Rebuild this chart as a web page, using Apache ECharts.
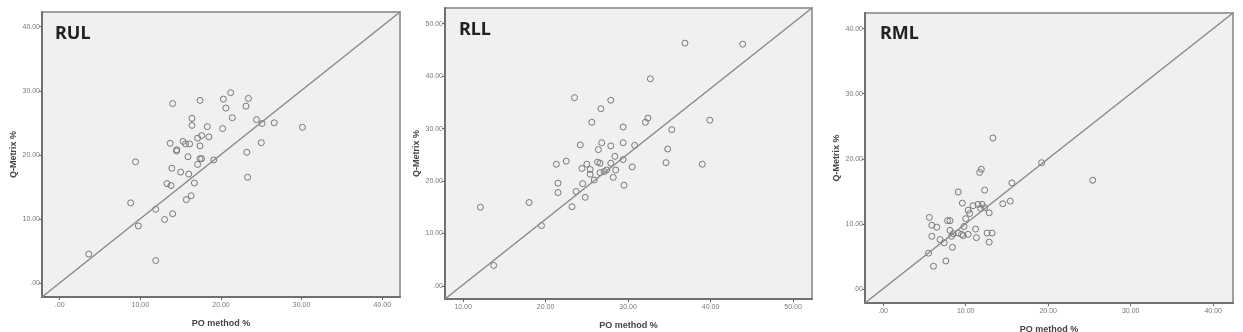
<!DOCTYPE html>
<html>
<head>
<meta charset="utf-8">
<script src="https://cdn.jsdelivr.net/npm/echarts@6/dist/echarts.min.js"></script>
<style>
  html, body { margin: 0; padding: 0; background: #fff; }
  #chart { width: 1243px; height: 332px; }
</style>
</head>
<body>
<div id="chart"></div>
<script>
// panel names and axis titles
var panelNames = ['RUL', 'RLL', 'RML'];
var xTitle = 'PO method %';
var yTitle = 'Q-Metrix %';

// RUL
var rulPO = [3.6, 11.9, 8.8, 9.75, 9.4, 11.9, 13.0, 14.0, 13.3, 13.8, 13.9, 13.7, 14.0, 14.5, 14.5, 15.0, 15.3, 15.6, 16.1, 15.9,
  16.0, 15.7, 16.3, 16.7, 16.4, 16.4, 17.1, 17.1, 17.4, 17.4, 17.6, 17.6, 17.4, 18.3, 18.5, 19.1, 20.2, 20.3, 20.6, 21.2,
  21.4, 23.1, 23.4, 23.2, 23.3, 24.4, 25.1, 25.0, 26.6, 30.1];
var rulQM = [4.5, 3.5, 12.5, 8.9, 18.9, 11.5, 9.9, 10.8, 15.5, 15.2, 17.9, 21.8, 28.0, 20.6, 20.8, 17.3, 22.1, 21.7, 21.7, 19.7,
  17.0, 13.0, 13.6, 15.6, 25.7, 24.6, 18.5, 22.6, 21.4, 19.4, 19.4, 23.0, 28.5, 24.4, 22.8, 19.2, 24.1, 28.7, 27.3, 29.7,
  25.8, 27.6, 28.8, 20.4, 16.5, 25.5, 24.9, 21.9, 25.0, 24.3];

// RLL
var rllPO = [12.1, 13.7, 18.0, 19.5, 21.3, 21.5, 21.5, 22.5, 23.2, 23.5, 23.7, 24.2, 24.4, 24.5, 24.8, 25.0, 25.4, 25.4, 25.6, 25.9,
  26.3, 26.4, 26.6, 26.6, 26.7, 26.8, 27.1, 27.4, 27.9, 27.9, 27.9, 28.2, 28.4, 28.5, 29.4, 29.4, 29.4, 29.5, 30.5, 30.8,
  32.1, 32.4, 32.7, 34.6, 34.8, 35.3, 36.9, 39.0, 39.9, 43.9];
var rllQM = [15.0, 3.9, 15.9, 11.5, 23.2, 19.6, 17.8, 23.8, 15.1, 35.9, 18.0, 26.9, 22.4, 19.5, 16.9, 23.2, 22.2, 21.3, 31.2, 20.2,
  23.6, 26.0, 23.4, 21.6, 33.8, 27.3, 21.8, 22.1, 35.4, 26.7, 23.4, 20.7, 24.7, 22.1, 30.3, 27.3, 24.1, 19.2, 22.7, 26.8,
  31.2, 32.0, 39.5, 23.5, 26.1, 29.8, 46.3, 23.2, 31.6, 46.1];

// RML
var rmlPO = [6.1, 7.6, 5.5, 8.4, 5.6, 5.9, 6.5, 5.9, 6.9, 7.4, 8.3, 7.8, 8.1, 8.1, 8.5, 9.1, 9.5, 9.7, 10.3, 9.1,
  9.6, 9.8, 10.0, 10.3, 10.5, 10.9, 11.5, 12.0, 11.8, 12.3, 11.2, 11.3, 12.6, 13.2, 12.85, 12.85, 11.7, 11.9, 12.3, 13.3,
  14.5, 15.4, 15.6, 19.2, 25.4];
var rmlQM = [3.5, 4.3, 5.5, 6.4, 11.0, 9.8, 9.5, 8.1, 7.6, 7.1, 8.1, 10.5, 10.5, 9.0, 8.5, 8.6, 8.4, 8.2, 8.4, 14.9,
  13.2, 9.6, 10.8, 12.1, 11.6, 12.8, 13.0, 13.0, 12.4, 12.5, 9.2, 7.9, 8.6, 8.6, 7.2, 11.7, 17.9, 18.4, 15.2, 23.2,
  13.1, 13.5, 16.3, 19.4, 16.7];

// tick labels
var rulXTicks = [0, 10, 20, 30, 40], rulYTicks = [0, 10, 20, 30, 40];
var rllXTicks = [10, 20, 30, 40, 50], rllYTicks = [0, 10, 20, 30, 40, 50];
var rmlXTicks = [0, 10, 20, 30, 40], rmlYTicks = [0, 10, 20, 30, 40];

// axis extents [min, max]
var rulXRange = [-2.2, 42.2], rulYRange = [-2.2, 42.3];
var rllXRange = [7.8, 52.3], rllYRange = [-2.5, 53];
var rmlXRange = [-2.2, 42.4], rmlYRange = [-2.15, 42.4];

function zip(a, b) {
  return a.map(function (v, i) { return [v, b[i]]; });
}
function fmt(v) {
  return v === 0 ? '.00' : v.toFixed(2);
}

var panels = [
  { name: panelNames[0], po: rulPO, qm: rulQM, xt: rulXTicks, yt: rulYTicks, xr: rulXRange, yr: rulYRange,
    grid: { left: 42, top: 12, width: 358, height: 285 }, title: { left: 55, top: 25 } },
  { name: panelNames[1], po: rllPO, qm: rllQM, xt: rllXTicks, yt: rllYTicks, xr: rllXRange, yr: rllYRange,
    grid: { left: 445, top: 8, width: 367, height: 291 }, title: { left: 459, top: 21 } },
  { name: panelNames[2], po: rmlPO, qm: rmlQM, xt: rmlXTicks, yt: rmlYTicks, xr: rmlXRange, yr: rmlYRange,
    grid: { left: 865, top: 13, width: 368, height: 290 }, title: { left: 880, top: 25 } }
];

var labelStyle = { fontSize: 7, color: '#777', fontFamily: 'Liberation Sans' };
var nameStyle = { fontSize: 9, fontWeight: 'bold', color: '#444', fontFamily: 'Liberation Sans' };

var option = { animation: false, grid: [], xAxis: [], yAxis: [], series: [], title: [] };

panels.forEach(function (p, i) {
  option.grid.push({
    left: p.grid.left, top: p.grid.top, width: p.grid.width, height: p.grid.height,
    outerBoundsMode: 'none', containLabel: false,
    show: true, backgroundColor: '#f0f0f0', borderColor: '#a0a0a0', borderWidth: 2
  });
  option.title.push({
    text: p.name, left: p.title.left, top: p.title.top, padding: 0,
    textStyle: { fontSize: 18, fontWeight: 'bold', color: '#222', fontFamily: 'Noto Sans' }
  });
  option.xAxis.push({
    gridIndex: i, type: 'value', min: p.xr[0], max: p.xr[1],
    name: xTitle, nameLocation: 'middle', nameGap: 22, nameTextStyle: nameStyle,
    splitLine: { show: false },
    axisLine: { show: true, onZero: false, lineStyle: { color: '#707070', width: 2 } },
    axisTick: { show: true, length: 3, customValues: p.xt, lineStyle: { color: '#666' } },
    axisLabel: Object.assign({ margin: 5, customValues: p.xt, formatter: fmt }, labelStyle)
  });
  option.yAxis.push({
    gridIndex: i, type: 'value', min: p.yr[0], max: p.yr[1],
    name: yTitle, nameLocation: 'middle', nameGap: 24, nameTextStyle: nameStyle,
    splitLine: { show: false },
    axisLine: { show: true, onZero: false, lineStyle: { color: '#707070', width: 2 } },
    axisTick: { show: true, length: 3, customValues: p.yt, lineStyle: { color: '#666' } },
    axisLabel: Object.assign({ margin: 2, customValues: p.yt, formatter: fmt }, labelStyle)
  });
  option.series.push({
    type: 'scatter', xAxisIndex: i, yAxisIndex: i,
    data: zip(p.po, p.qm),
    symbol: 'circle', symbolSize: 6,
    itemStyle: { color: 'rgba(0,0,0,0)', borderColor: '#787878', borderWidth: 1, opacity: 1 },
    markLine: {
      silent: true, symbol: 'none', label: { show: false },
      lineStyle: { color: '#8a8a8a', width: 1.5, type: 'solid' },
      data: [[{ coord: [p.xr[0], p.yr[0]] }, { coord: [p.xr[1], p.yr[1]] }]]
    }
  });
});

var myChart = echarts.init(document.getElementById('chart'));
myChart.setOption(option);
</script>
</body>
</html>
